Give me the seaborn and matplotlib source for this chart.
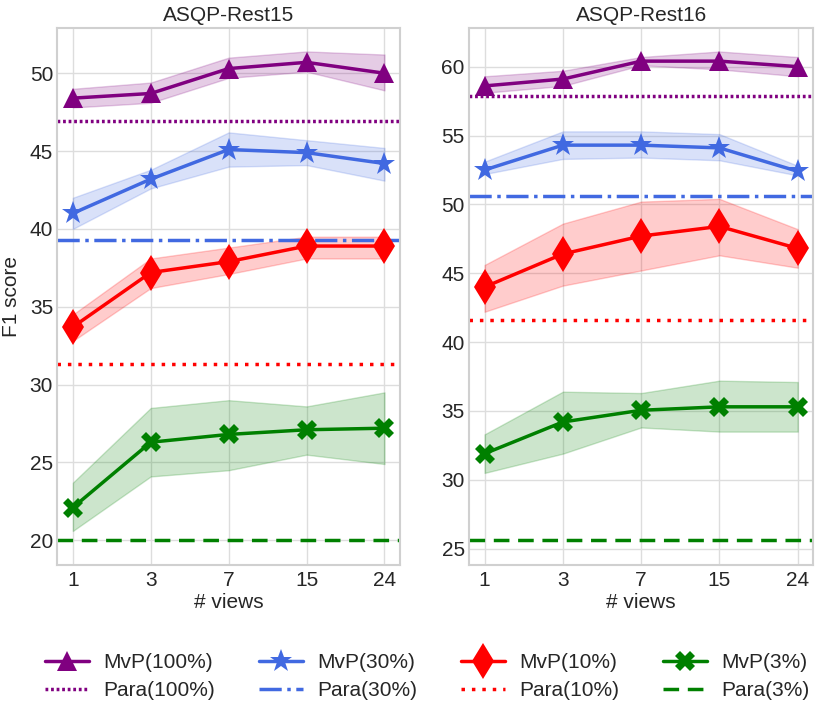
import numpy as np
import matplotlib
matplotlib.use("Agg")
import matplotlib.pyplot as plt
import seaborn as sns
import pandas as pd

sns.set_theme(style="whitegrid")
plt.rcParams["font.family"] = ["Liberation Sans", "DejaVu Sans"]

views = ["1", "3", "7", "15", "24"]
series = ["MvP(100%)", "MvP(30%)", "MvP(10%)", "MvP(3%)"]
para_labels = ["Para(100%)", "Para(30%)", "Para(10%)", "Para(3%)"]

# ASQP-Rest15
r15_mean = {
    "MvP(100%)": [48.4, 48.7, 50.3, 50.7, 50.0],
    "MvP(30%)": [41.0, 43.2, 45.1, 44.9, 44.2],
    "MvP(10%)": [33.7, 37.2, 37.9, 38.9, 38.9],
    "MvP(3%)": [22.1, 26.3, 26.8, 27.1, 27.2],
}
r15_low = {
    "MvP(100%)": [47.8, 48.1, 49.7, 50.1, 48.9],
    "MvP(30%)": [40.0, 42.6, 44.0, 44.1, 43.1],
    "MvP(10%)": [32.8, 36.2, 37.1, 38.1, 38.1],
    "MvP(3%)": [20.6, 24.1, 24.5, 25.5, 24.9],
}
r15_high = {
    "MvP(100%)": [49.0, 49.4, 51.0, 51.4, 51.2],
    "MvP(30%)": [42.0, 43.8, 46.2, 45.7, 45.2],
    "MvP(10%)": [34.5, 38.1, 38.8, 39.5, 39.5],
    "MvP(3%)": [23.7, 28.5, 29.0, 28.6, 29.5],
}
r15_para = [46.9, 39.3, 31.35, 20.0]

# ASQP-Rest16
r16_mean = {
    "MvP(100%)": [58.6, 59.1, 60.4, 60.4, 60.0],
    "MvP(30%)": [52.5, 54.3, 54.3, 54.1, 52.4],
    "MvP(10%)": [44.0, 46.4, 47.7, 48.4, 46.8],
    "MvP(3%)": [31.9, 34.2, 35.05, 35.3, 35.3],
}
r16_low = {
    "MvP(100%)": [58.1, 58.6, 60.1, 59.8, 59.3],
    "MvP(30%)": [52.2, 53.3, 53.4, 53.2, 52.1],
    "MvP(10%)": [42.2, 44.1, 45.2, 46.3, 45.4],
    "MvP(3%)": [30.5, 31.9, 33.8, 33.5, 33.5],
}
r16_high = {
    "MvP(100%)": [59.3, 59.7, 60.7, 61.1, 60.7],
    "MvP(30%)": [53.1, 55.3, 55.3, 55.1, 52.8],
    "MvP(10%)": [45.6, 48.6, 50.2, 50.4, 48.2],
    "MvP(3%)": [33.3, 36.4, 36.3, 37.2, 37.1],
}
r16_para = [57.9, 50.6, 41.6, 25.6]

colors = ["purple", "royalblue", "red", "green"]
markers = ["^", "*", "d", "X"]
msizes = [15, 17, 18, 15]
para_styles = [(0, (0.8, 0.8)), "-.", (0, (1, 2)), (0, (4.5, 2.5))]

fig = plt.figure(figsize=(8.3, 7.2), dpi=100)
ax1 = fig.add_axes([0.069, 0.215, 0.413, 0.746])
ax2 = fig.add_axes([0.565, 0.215, 0.415, 0.746])

panels = [
    (ax1, "ASQP-Rest15", r15_mean, r15_low, r15_high, r15_para, (18.4, 52.9)),
    (ax2, "ASQP-Rest16", r16_mean, r16_low, r16_high, r16_para, (23.8, 62.8)),
]

xpos = np.arange(len(views))
for ax, title, mean, low, high, para, ylim in panels:
    for i, s in enumerate(series):
        df = pd.DataFrame({"x": xpos, "y": mean[s]})
        sns.lineplot(data=df, x="x", y="y", ax=ax, color=colors[i],
                     marker=markers[i], markersize=msizes[i], linewidth=2.5,
                     markeredgewidth=0, errorbar=None, label=s)
        ax.fill_between(xpos, low[s], high[s], color=colors[i], alpha=0.2)
        ax.axhline(para[i], color=colors[i], linestyle=para_styles[i],
                   linewidth=2.5, label=para_labels[i])
    ax.set_xlim(-0.2, 4.2)
    ax.set_ylim(*ylim)
    ax.set_xticks(xpos)
    ax.set_xticklabels(views)
    ax.set_title(title, fontsize=15, pad=5)
    ax.set_xlabel("# views", fontsize=15, labelpad=2)
    ax.set_ylabel("")
    ax.tick_params(axis="both", labelsize=15, length=0)
    ax.tick_params(axis="x", pad=4)
    ax.tick_params(axis="y", pad=3)
    ax.grid(color="#dddddd")
    for sp in ax.spines.values():
        sp.set_color("#d0d0d0")
        sp.set_linewidth(1.5)
    if ax.get_legend() is not None:
        ax.get_legend().remove()

ax1.set_ylabel("F1 score", fontsize=15, labelpad=6)

h, l = ax1.get_legend_handles_labels()
order = []
for i in range(4):
    order.append(l.index(series[i]))
    order.append(l.index(para_labels[i]))
fig.legend([h[k] for k in order], [l[k] for k in order], loc="center",
           bbox_to_anchor=(0.515, 0.06), ncol=4, frameon=False, fontsize=15,
           handlelength=2.1, handletextpad=0.7, columnspacing=2.1,
           labelspacing=0.45)

fig.savefig("out.png", dpi=100)
